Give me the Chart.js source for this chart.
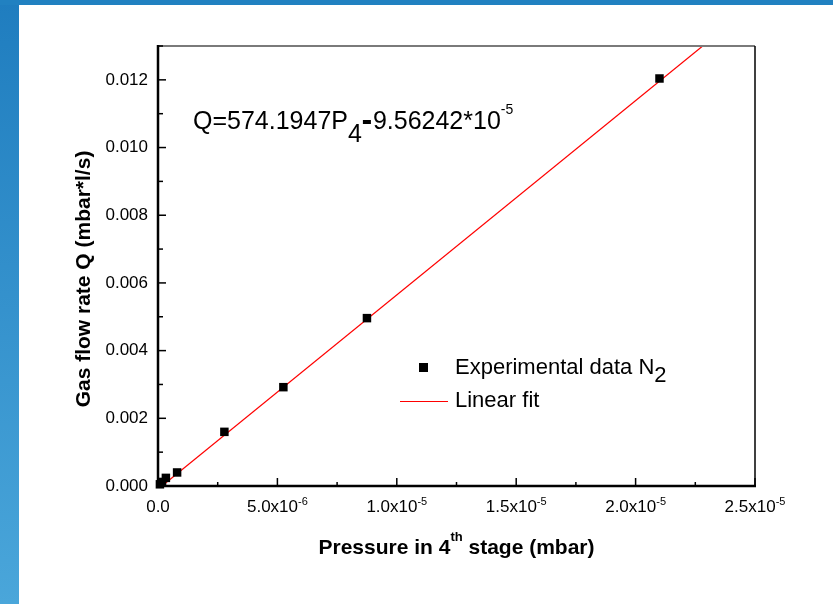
<!DOCTYPE html>
<html>
<head>
<meta charset="utf-8">
<script src="https://cdn.jsdelivr.net/npm/chart.js@4.4.1/dist/chart.umd.min.js"></script>
<style>
html, body { margin: 0; padding: 0; background: #fff; }
#wrap { width: 833px; height: 604px; position: relative; }
</style>
</head>
<body>
<div id="wrap"><canvas id="myChart" width="833" height="604"></canvas></div>
<script>
// measured N2 points (pressure in 4th stage, mbar / flow rate, mbar*l/s)
var pressure = [0.8e-7, 1.7e-7, 3.3e-7, 8.0e-7, 2.78e-6, 5.25e-6, 8.75e-6, 2.10e-5];
var flowRate = [0.00005, 0.00012, 0.00024, 0.00040, 0.00160, 0.00292, 0.00496, 0.01204];

// linear fit end points, Q = 574.1947*P4 - 9.56242e-5
var fitPressure = [1.66e-7, 2.281e-5];
var fitFlow = [0.0, 0.013];

var xMajor = [0, 5e-6, 1e-5, 1.5e-5, 2e-5, 2.5e-5];
var xMinor = [2.5e-6, 7.5e-6, 1.25e-5, 1.75e-5, 2.25e-5];
var xTickText = ['0.0', '5.0x10', '1.0x10', '1.5x10', '2.0x10', '2.5x10'];
var xTickExp = ['', '-6', '-5', '-5', '-5', '-5'];

var yMajor = [0, 0.002, 0.004, 0.006, 0.008, 0.010, 0.012];
var yMinor = [0.001, 0.003, 0.005, 0.007, 0.009, 0.011, 0.013];
var yTickText = ['0.000', '0.002', '0.004', '0.006', '0.008', '0.010', '0.012'];

var FONT = '"Liberation Sans", Arial, sans-serif';

var pageBackground = {
    id: 'pageBackground',
    beforeDraw: function (chart) {
        var c = chart.ctx;
        c.save();
        c.fillStyle = '#ffffff';
        c.fillRect(0, 0, chart.width, chart.height);
        var g = c.createLinearGradient(0, 0, 0, chart.height);
        g.addColorStop(0, '#1f7dbf');
        g.addColorStop(1, '#4aa6da');
        c.fillStyle = g;
        c.fillRect(0, 0, 19, chart.height);
        c.fillStyle = '#2181c1';
        c.fillRect(0, 0, chart.width, 5);
        c.restore();
    }
};

var axesDecor = {
    id: 'axesDecor',
    afterDraw: function (chart) {
        var c = chart.ctx;
        var xs = chart.scales.x, ys = chart.scales.y;
        var a = chart.chartArea;
        c.save();

        // frame
        c.strokeStyle = '#7a7a7a';
        c.lineWidth = 2;
        c.beginPath(); c.moveTo(a.left, a.top); c.lineTo(a.right, a.top); c.stroke();
        c.strokeStyle = '#000';
        c.lineWidth = 1.5;
        c.beginPath(); c.moveTo(a.right, a.top); c.lineTo(a.right, a.bottom); c.stroke();
        c.lineWidth = 2.5;
        c.beginPath();
        c.moveTo(a.left, a.top - 1); c.lineTo(a.left, a.bottom); c.lineTo(a.right + 1, a.bottom);
        c.stroke();

        // inward ticks
        c.lineWidth = 1.5;
        xMajor.forEach(function (v) {
            var px = xs.getPixelForValue(v);
            c.beginPath(); c.moveTo(px, a.bottom); c.lineTo(px, a.bottom - 8); c.stroke();
        });
        xMinor.forEach(function (v) {
            var px = xs.getPixelForValue(v);
            c.beginPath(); c.moveTo(px, a.bottom); c.lineTo(px, a.bottom - 4); c.stroke();
        });
        yMajor.forEach(function (v) {
            var py = ys.getPixelForValue(v);
            c.beginPath(); c.moveTo(a.left, py); c.lineTo(a.left + 8, py); c.stroke();
        });
        yMinor.forEach(function (v) {
            var py = ys.getPixelForValue(v);
            c.beginPath(); c.moveTo(a.left, py); c.lineTo(a.left + 5, py); c.stroke();
        });

        // y tick labels
        c.fillStyle = '#000';
        c.font = '17px ' + FONT;
        c.textAlign = 'right';
        c.textBaseline = 'middle';
        yMajor.forEach(function (v, i) {
            c.fillText(yTickText[i], a.left - 10, ys.getPixelForValue(v));
        });

        // x tick labels with superscript exponent
        c.textBaseline = 'alphabetic';
        c.textAlign = 'left';
        xMajor.forEach(function (v, i) {
            var px = xs.getPixelForValue(v);
            c.font = '17px ' + FONT;
            var w1 = c.measureText(xTickText[i]).width;
            c.font = '11px ' + FONT;
            var w2 = xTickExp[i] ? c.measureText(xTickExp[i]).width : 0;
            var x0 = px - (w1 + w2) / 2;
            c.font = '17px ' + FONT;
            c.fillText(xTickText[i], x0, 512);
            if (xTickExp[i]) {
                c.font = '11px ' + FONT;
                c.fillText(xTickExp[i], x0 + w1, 505);
            }
        });

        // x axis title
        c.font = 'bold 21px ' + FONT;
        var t1 = 'Pressure in 4', t2 = 'th', t3 = ' stage (mbar)';
        var w1 = c.measureText(t1).width, w3 = c.measureText(t3).width;
        c.font = 'bold 13px ' + FONT;
        var w2 = c.measureText(t2).width;
        var xc = (a.left + a.right) / 2;
        var x0 = xc - (w1 + w2 + w3) / 2;
        c.font = 'bold 21px ' + FONT;
        c.fillText(t1, x0, 554);
        c.fillText(t3, x0 + w1 + w2, 554);
        c.font = 'bold 13px ' + FONT;
        c.fillText(t2, x0 + w1, 541);

        // y axis title
        c.save();
        c.translate(90, 279);
        c.rotate(-Math.PI / 2);
        c.textAlign = 'center';
        c.font = 'bold 21px ' + FONT;
        c.fillText('Gas flow rate Q (mbar*l/s)', 0, 0);
        c.restore();

        // fit equation
        c.textAlign = 'left';
        c.font = '25px ' + FONT;
        var ex = 193;
        c.fillText('Q=574.1947P', ex, 129);
        ex += c.measureText('Q=574.1947P').width;
        c.fillText('4', ex, 142);
        ex += c.measureText('4').width + 1;
        c.fillRect(ex, 120, 8, 4);
        ex += 10;
        c.fillText('9.56242*10', ex, 129);
        ex += c.measureText('9.56242*10').width;
        c.font = '14px ' + FONT;
        c.fillText('-5', ex, 114);

        // legend
        c.fillStyle = '#000';
        c.fillRect(419, 363, 9, 9);
        c.strokeStyle = '#ff0000';
        c.lineWidth = 1;
        c.beginPath(); c.moveTo(400, 401.5); c.lineTo(448, 401.5); c.stroke();
        c.font = '22px ' + FONT;
        c.textBaseline = 'middle';
        c.fillText('Experimental data N', 455, 368);
        var lw = c.measureText('Experimental data N').width;
        c.fillText('2', 455 + lw, 376);
        c.fillText('Linear fit', 455, 401);

        c.restore();
    }
};

var ctx = document.getElementById('myChart').getContext('2d');
var myChart = new Chart(ctx, {
    type: 'scatter',
    data: {
        datasets: [{
            label: 'Experimental data N2',
            data: pressure.map(function (p, i) { return { x: p, y: flowRate[i] }; }),
            pointStyle: 'rect',
            pointRadius: 6,
            pointHoverRadius: 6,
            backgroundColor: '#000',
            borderColor: '#000',
            borderWidth: 0,
            clip: 8,
            order: 0
        }, {
            label: 'Linear fit',
            data: fitPressure.map(function (p, i) { return { x: p, y: fitFlow[i] }; }),
            showLine: true,
            borderColor: '#ff0000',
            borderWidth: 1.2,
            pointRadius: 0,
            order: 1
        }]
    },
    options: {
        responsive: false,
        animation: false,
        layout: {
            padding: { left: 158, right: 78, top: 46, bottom: 118 }
        },
        plugins: {
            legend: { display: false },
            tooltip: { enabled: false }
        },
        scales: {
            x: { type: 'linear', display: false, min: 0, max: 2.5e-5 },
            y: { type: 'linear', display: false, min: 0, max: 0.013 }
        }
    },
    plugins: [pageBackground, axesDecor]
});
</script>
</body>
</html>
